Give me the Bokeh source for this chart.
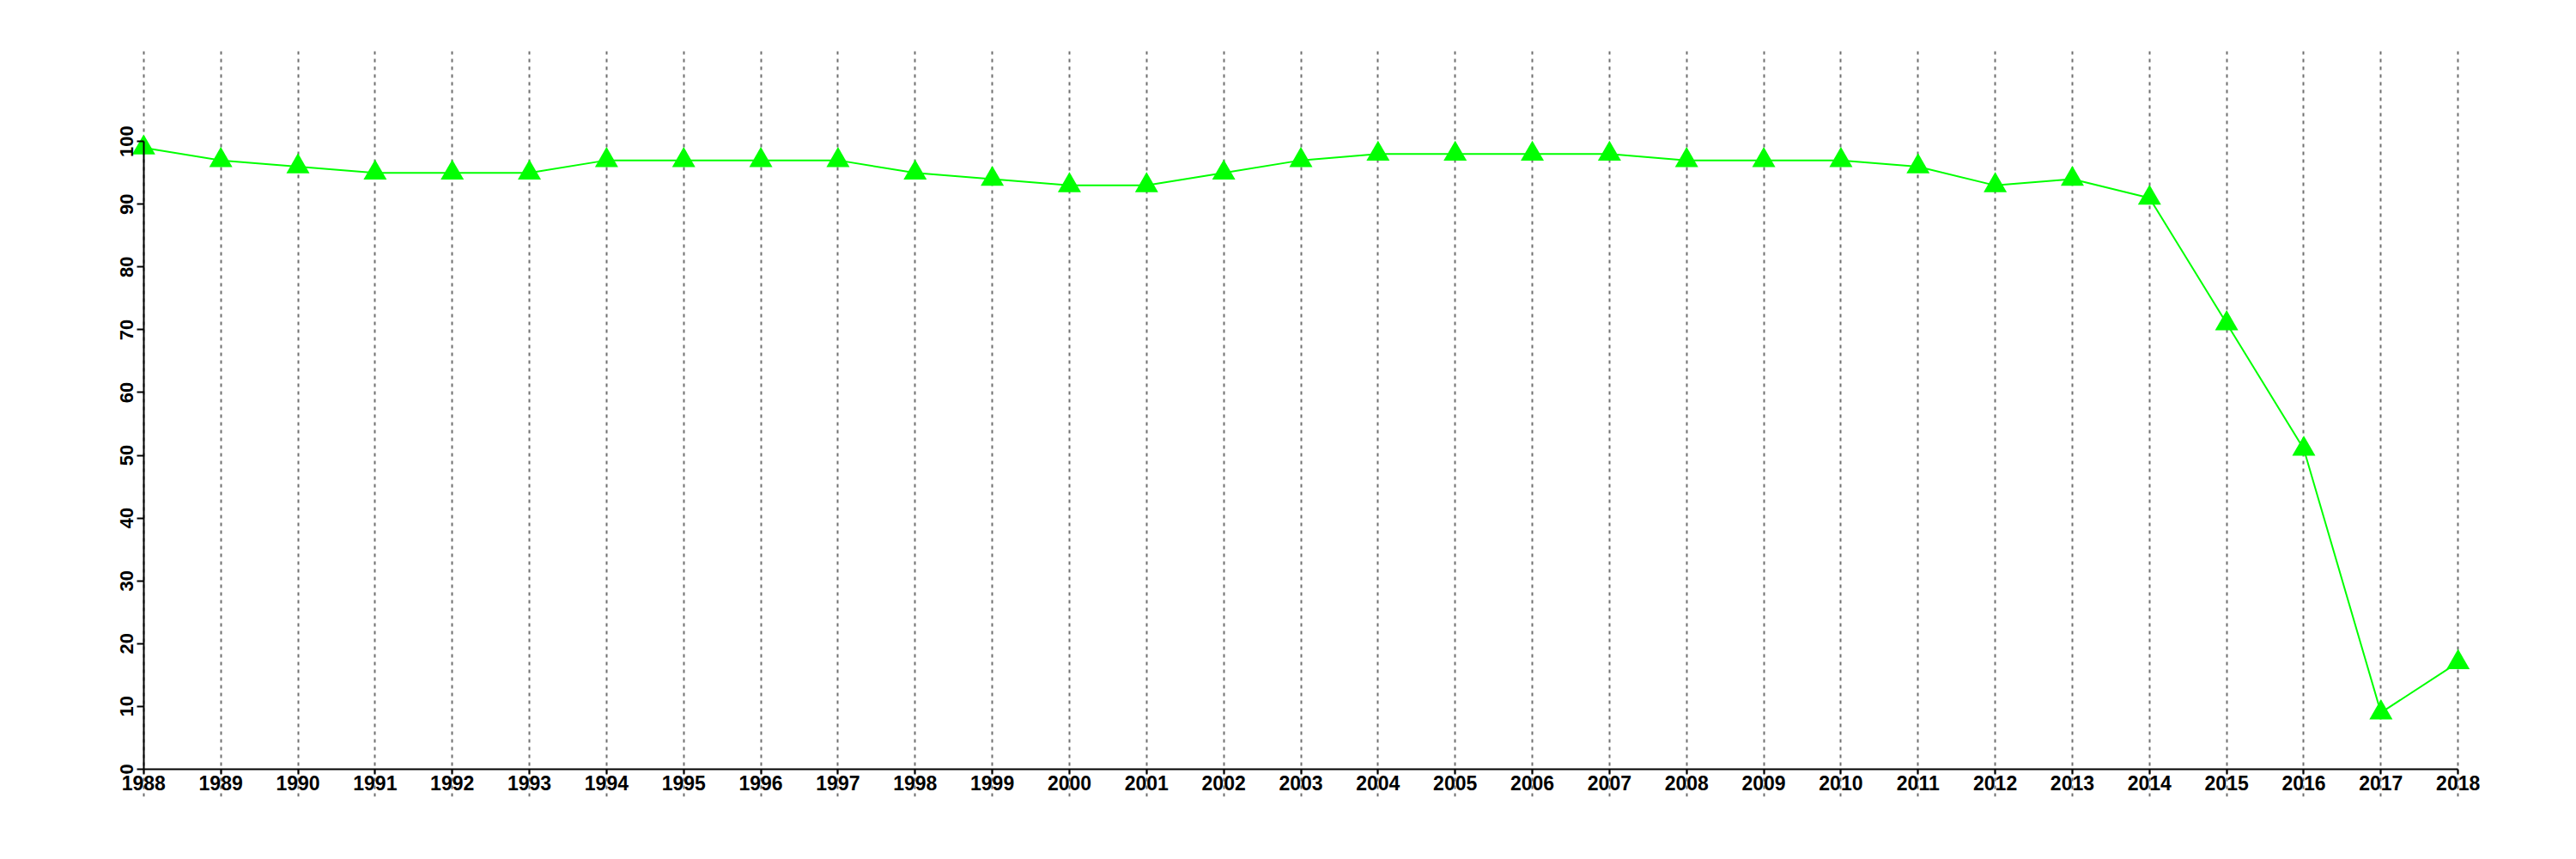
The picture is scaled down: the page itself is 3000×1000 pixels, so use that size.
from bokeh.plotting import figure
from bokeh.models import FixedTicker, ColumnDataSource
from bokeh.embed import file_html
from bokeh.resources import INLINE

years = list(range(1988, 2019))
values = [99, 97, 96, 95, 95, 95, 97, 97, 97, 97, 95, 94, 93, 93, 95, 97,
          98, 98, 98, 98, 97, 97, 97, 96, 93, 94, 91, 71, 51, 9, 17]
y_ticks = list(range(0, 101, 10))

src = ColumnDataSource(dict(x=years, y=values))

p = figure(width=2992, height=992, output_backend="svg", toolbar_location=None,
           x_range=(1986.8, 2019.2), y_range=(-4.4, 114.4),
           min_border_left=59, min_border_right=22, min_border_top=59,
           min_border_bottom=65)
p.outline_line_color = None
p.background_fill_color = "white"
p.border_fill_color = "white"

# grid: vertical dotted lines at each year, no horizontal grid
p.xgrid.ticker = FixedTicker(ticks=years)
p.xgrid.grid_line_color = "#707070"
p.xgrid.grid_line_width = 2
p.xgrid.grid_line_dash = "4 5"
p.ygrid.grid_line_color = None

FONT = "Liberation Sans"

xa = p.xaxis[0]
xa.ticker = FixedTicker(ticks=years)
xa.fixed_location = 0
xa.bounds = (1988, 2018)
xa.axis_line_width = 2
xa.major_tick_line_width = 2
xa.major_tick_out = 6
xa.major_tick_in = 0
xa.minor_tick_line_color = None
xa.major_label_standoff = 2
xa.major_label_text_font = FONT
xa.major_label_text_font_style = "bold"
xa.major_label_text_font_size = "23px"
xa.major_label_text_color = "black"

ya = p.yaxis[0]
ya.ticker = FixedTicker(ticks=y_ticks)
ya.fixed_location = 1988
ya.bounds = (0, 100)
ya.axis_line_width = 2
ya.major_tick_line_width = 2
ya.major_tick_out = 8
ya.major_tick_in = 0
ya.minor_tick_line_color = None
ya.major_label_standoff = 4
ya.major_label_orientation = "vertical"
ya.major_label_text_font = FONT
ya.major_label_text_font_style = "bold"
ya.major_label_text_font_size = "22px"
ya.major_label_text_color = "black"

p.line("x", "y", source=src, line_color="#00FF00", line_width=2)
p.scatter("x", "y", source=src, marker="triangle", size=27,
          fill_color="#00FF00", line_color="#00FF00", line_width=0)

open("out.html", "w").write(file_html(p, INLINE))
